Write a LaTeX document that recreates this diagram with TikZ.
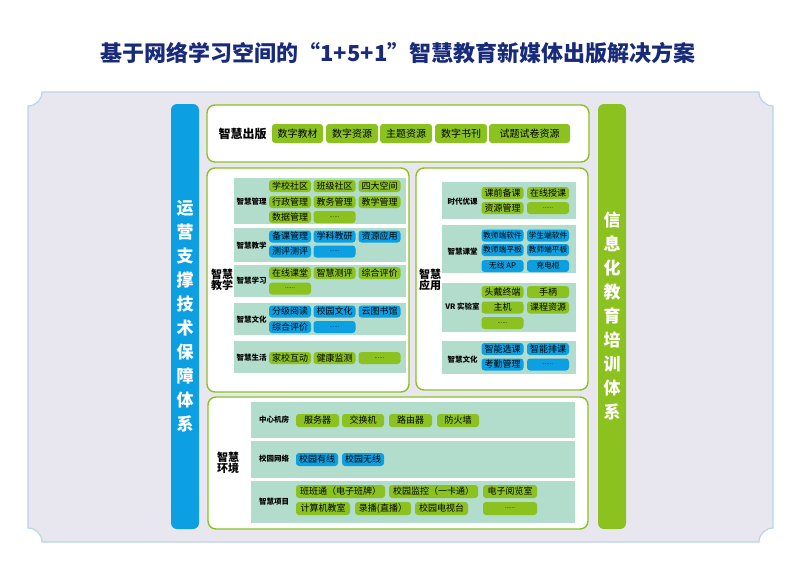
\documentclass[tikz,border=0pt]{standalone}
\usepackage{fontspec}
\setmainfont{Noto Sans CJK SC}
\usetikzlibrary{positioning}

\definecolor{titleblue}{RGB}{24,42,122}
\definecolor{leafgreen}{RGB}{140,194,32}
\definecolor{skyblue}{RGB}{12,160,226}
\definecolor{bandteal}{RGB}{178,220,204}
\definecolor{framegray}{RGB}{232,231,239}
\definecolor{frameline}{RGB}{188,211,234}
\newcommand{\pxfont}[1]{\fontsize{#1}{#1}\selectfont}

\begin{document}
\begin{tikzpicture}[x=1pt,y=-1pt,
  zone/.style={draw=leafgreen,line width=1.4pt,fill=white,rounded corners=8pt,inner sep=0pt},
  band/.style={fill=bandteal,inner sep=0pt},
  gchip/.style={fill=leafgreen,rounded corners=3pt,inner sep=0pt,minimum width=42pt,minimum height=12pt,font=\pxfont{9}},
  bchip/.style={gchip,fill=skyblue},
  pubchip/.style={gchip,minimum height=19pt,font=\pxfont{10}},
  gdots/.style={gchip,font=\pxfont{6}},
  bdots/.style={bchip,font=\pxfont{6}},
  biglabel/.style={font=\pxfont{11}\bfseries,align=center},
  sublabel/.style={font=\pxfont{7.5}\bfseries},
  sidebar/.style={rounded corners=6pt,inner sep=0pt,minimum width=28pt,minimum height=425pt,text=white,align=center,font=\fontsize{17}{24}\selectfont\bfseries}]
  \useasboundingbox (0,0) rectangle (800,566);
  \filldraw[fill=framegray,draw=frameline,line width=1.2pt]
    (42,92) -- (759,92) .. controls (759,99.7) and (765.3,106) .. (773,106)
    -- (773,528) .. controls (765.3,528) and (759,534.3) .. (759,542)
    -- (42,542) .. controls (42,534.3) and (35.7,528) .. (28,528)
    -- (28,106) .. controls (35.7,106) and (42,99.7) .. (42,92) -- cycle;
  \node[font=\pxfont{22}\bfseries,text=titleblue] (title) at (398,53) {基于网络学习空间的“1+5+1”智慧教育新媒体出版解决方案};

  \node[sidebar,fill=skyblue]   (support) at (185,316.5) {运\\营\\支\\撑\\技\\术\\保\\障\\体\\系};
  \node[sidebar,fill=leafgreen] (train)   at (612,316.5) {信\\息\\化\\教\\育\\培\\训\\体\\系};

  \node[zone,minimum width=382pt,minimum height=57pt]  (pub)   at (398,133.5) {};
  \node[zone,minimum width=202pt,minimum height=224pt] (teach) at (308,280) {};
  \node[zone,minimum width=172pt,minimum height=222pt] (app)   at (502,279) {};
  \node[zone,minimum width=380pt,minimum height=132pt] (env)   at (398,463) {};

  \node[font=\pxfont{12}\bfseries] (publbl) at (242.5,134) {智慧出版};
  \node[pubchip,minimum width=51pt] (pub1) at (297.5,133.5) {数字教材};
  \node[pubchip,minimum width=52pt] (pub2) at (352,133.5)   {数字资源};
  \node[pubchip,minimum width=52pt] (pub3) at (406,133.5)   {主题资源};
  \node[pubchip,minimum width=52pt] (pub4) at (461,133.5)   {数字书刊};
  \node[pubchip,minimum width=81pt] (pub5) at (529.5,133.5) {试题试卷资源};

  \node[biglabel] (teachlbl) at (222,280) {智慧\\教学};
  \node[band,minimum width=172pt,minimum height=46pt] (t1) at (320,201) {};
  \node[band,minimum width=172pt,minimum height=34pt] (t2) at (320,245) {};
  \node[band,minimum width=172pt,minimum height=32pt] (t3) at (320,281) {};
  \node[band,minimum width=172pt,minimum height=32pt] (t4) at (320,319) {};
  \node[band,minimum width=172pt,minimum height=32pt] (t5) at (320,357) {};
  \node[sublabel] (t1lbl) at (251.5,202) {智慧管理};
  \node[sublabel] (t2lbl) at (251.5,246) {智慧教学};
  \node[sublabel] (t3lbl) at (251.5,281) {智慧学习};
  \node[sublabel] (t4lbl) at (251.5,320) {智慧文化};
  \node[sublabel] (t5lbl) at (251.5,358) {智慧生活};
  \node[gchip] (t1a) at (290,186)   {学校社区};
  \node[gchip] (t1b) at (334.5,186) {班级社区};
  \node[gchip] (t1c) at (379.5,186) {四大空间};
  \node[gchip] (t1d) at (290,202)   {行政管理};
  \node[gchip] (t1e) at (334.5,202) {教务管理};
  \node[gchip] (t1f) at (379.5,202) {教学管理};
  \node[gchip] (t1g) at (290,217)   {数据管理};
  \node[gdots] (t1h) at (334.5,217) {......};
  \node[bchip] (t2a) at (290,236.5)   {备课管理};
  \node[bchip] (t2b) at (334.5,236.5) {学科教研};
  \node[bchip] (t2c) at (379.5,236.5) {资源应用};
  \node[bchip] (t2d) at (290,251.5)   {测评测评};
  \node[bdots] (t2e) at (334.5,251.5) {......};
  \node[gchip] (t3a) at (290,273)   {在线课堂};
  \node[gchip] (t3b) at (334.5,273) {智慧测评};
  \node[gchip] (t3c) at (379.5,273) {综合评价};
  \node[gdots] (t3d) at (290,288.5) {......};
  \node[bchip] (t4a) at (290,311.5)   {分级阅读};
  \node[bchip] (t4b) at (334.5,311.5) {校园文化};
  \node[bchip] (t4c) at (379.5,311.5) {云图书馆};
  \node[bchip] (t4d) at (290,327)     {综合评价};
  \node[bdots] (t4e) at (334.5,327)   {......};
  \node[gchip] (t5a) at (290,358)   {家校互动};
  \node[gchip] (t5b) at (334.5,358) {健康监测};
  \node[gdots] (t5c) at (379.5,358) {......};

  \node[biglabel] (applbl) at (430,280) {智慧\\应用};
  \node[band,minimum width=134pt,minimum height=37pt] (a1) at (509,200.5) {};
  \node[band,minimum width=134pt,minimum height=48pt] (a2) at (509,249)   {};
  \node[band,minimum width=134pt,minimum height=49pt] (a3) at (509,307.5) {};
  \node[band,minimum width=134pt,minimum height=33pt] (a4) at (509,357.5) {};
  \node[sublabel] (a1lbl) at (462.5,202) {时代优课};
  \node[sublabel] (a2lbl) at (462.5,252) {智慧课堂};
  \node[sublabel] (a3lbl) at (462.5,307) {VR 实验室};
  \node[sublabel] (a4lbl) at (462.5,360) {智慧文化};
  \node[gchip] (a1a) at (502.5,193) {课前备课};
  \node[gchip] (a1b) at (548,193)   {在线授课};
  \node[gchip] (a1c) at (502.5,208) {资源管理};
  \node[gdots] (a1d) at (548,208)   {......};
  \node[bchip,font=\pxfont{7.8}] (a2a) at (502.5,235.5) {教师端软件};
  \node[bchip,font=\pxfont{7.8}] (a2b) at (548,235.5)   {学生端软件};
  \node[bchip,font=\pxfont{7.8}] (a2c) at (502.5,250)   {教师端平板};
  \node[bchip,font=\pxfont{7.8}] (a2d) at (548,250)     {教师端平板};
  \node[bchip,font=\pxfont{7.8}] (a2e) at (502.5,266)   {无线 AP};
  \node[bchip,font=\pxfont{7.8}] (a2f) at (548,266)     {充电柜};
  \node[gchip] (a3a) at (502.5,292)   {头戴终端};
  \node[gchip] (a3b) at (548,292)     {手柄};
  \node[gchip] (a3c) at (502.5,307.5) {主机};
  \node[gchip] (a3d) at (548,307.5)   {课程资源};
  \node[gdots] (a3e) at (502.5,323)   {......};
  \node[bchip] (a4a) at (502.5,349)   {智能选课};
  \node[bchip] (a4b) at (548,349)     {智能排课};
  \node[bchip] (a4c) at (502.5,364.5) {考勤管理};
  \node[bdots] (a4d) at (548,364.5)   {......};

  \node[biglabel] (envlbl) at (228,463) {智慧\\环境};
  \node[band,minimum width=324pt,minimum height=36pt] (e1) at (413,420)   {};
  \node[band,minimum width=324pt,minimum height=37pt] (e2) at (413,459.5) {};
  \node[band,minimum width=324pt,minimum height=42pt] (e3) at (413,502)   {};
  \node[sublabel] (e1lbl) at (274,420) {中心机房};
  \node[sublabel] (e2lbl) at (274,459) {校园网络};
  \node[sublabel] (e3lbl) at (274,502) {智慧项目};
  \node[gchip,minimum height=13pt,minimum width=43pt] (e1a) at (317.5,420.5) {服务器};
  \node[gchip,minimum height=13pt]                    (e1b) at (363,420.5)   {交换机};
  \node[gchip,minimum height=13pt,minimum width=43pt] (e1c) at (410.5,420.5) {路由器};
  \node[gchip,minimum height=13pt]                    (e1d) at (458,420.5)   {防火墙};
  \node[bchip,minimum height=13pt] (e2a) at (317,459.5) {校园有线};
  \node[bchip,minimum height=13pt] (e2b) at (363,459.5) {校园无线};
  \node[gchip,minimum height=13pt,minimum width=89pt] (e3a) at (340.5,491.5) {班班通（电子班牌）};
  \node[gchip,minimum height=13pt,minimum width=89pt] (e3b) at (433.5,491.5) {校园监控（一卡通）};
  \node[gchip,minimum height=13pt,minimum width=54pt] (e3c) at (510,491.5)   {电子阅览室};
  \node[gchip,minimum height=13pt,minimum width=54pt] (e3d) at (323,508.5)   {计算机教室};
  \node[gchip,minimum height=13pt,minimum width=56pt] (e3e) at (383,508.5)   {录播(直播）};
  \node[gchip,minimum height=13pt,minimum width=53pt] (e3f) at (441.5,508.5) {校园电视台};
  \node[gdots,minimum height=13pt,minimum width=54pt] (e3g) at (510,508.5)   {......};
\end{tikzpicture}
\end{document}
